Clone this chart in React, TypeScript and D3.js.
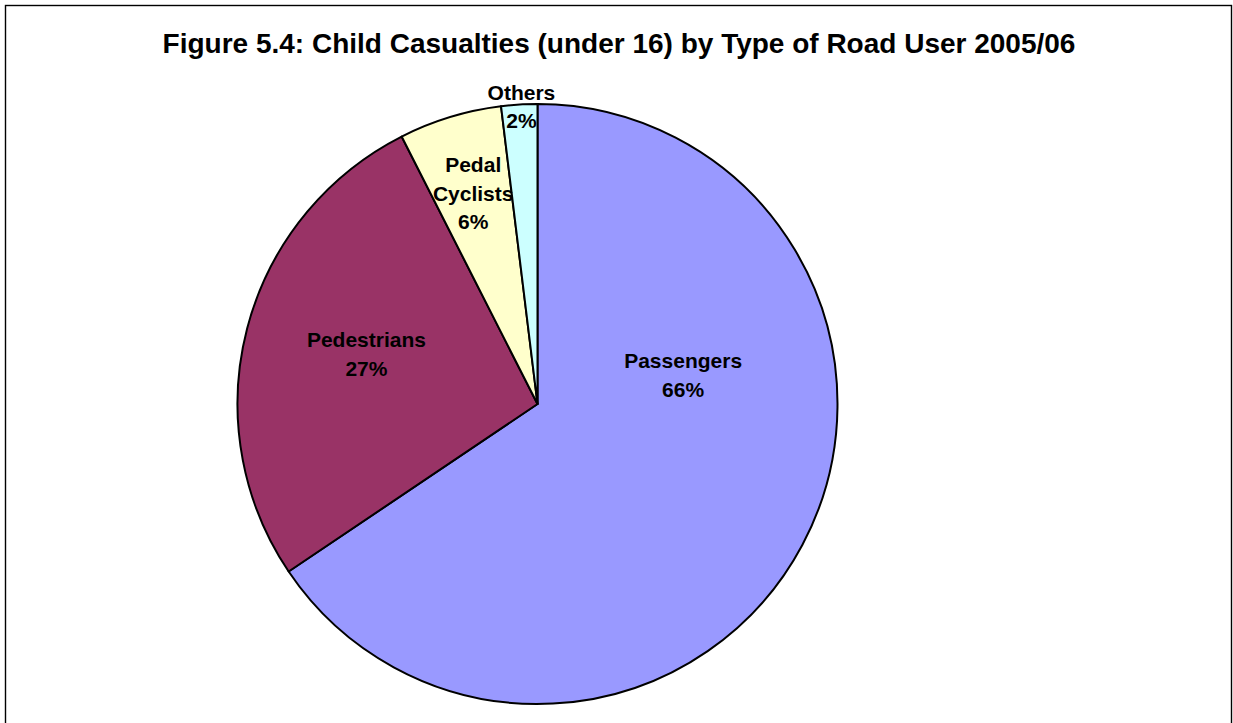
import React from "react";
import * as d3 from "d3";

// ---- data ----
const categories: string[] = ["Passengers", "Pedestrians", "Pedal Cyclists", "Others"];
const shares: number[] = [65.57, 26.95, 5.54, 1.94];
const colors: string[] = ["#9999FF", "#993366", "#FFFFCC", "#CCFFFF"];
const title = "Figure 5.4: Child Casualties (under 16) by Type of Road User 2005/06";

// ---- layout ----
const W = 1233;
const H = 723;
const CX = 537.5;
const CY = 404;
const R = 300;
// label placement: offset (deg) from slice mid-angle and radius fraction
const labelLayout = [
  { dAngle: -39.3, rf: 0.495 },
  { dAngle: 1.7, rf: 0.594 },
  { dAngle: 0, rf: 0.735 },
  { dAngle: 0.4, rf: 0.993 },
];
const FONT = "'Liberation Sans', Arial, Helvetica, sans-serif";
const LABEL_SIZE = 21;
const LINE_H = 28.5;

export default function App() {
  const total = d3.sum(shares);
  const pie = d3
    .pie<number>()
    .sort(null)
    .value((d) => d);
  const arcs = pie(shares);
  const arc = d3.arc<d3.PieArcDatum<number>>().innerRadius(0).outerRadius(R);
  const fmt = d3.format(".0f");

  return (
    <svg
      width={W}
      height={H}
      viewBox={`0 0 ${W} ${H}`}
      style={{ position: "absolute", left: 0, top: 0, background: "#fff" }}
    >
      <rect x={0} y={0} width={W} height={H} fill="#fff" />
      <rect x={5.5} y={5.5} width={1226} height={800} fill="none" stroke="#000" strokeWidth={1.4} />
      <text
        x={619}
        y={53}
        textAnchor="middle"
        fontFamily={FONT}
        fontWeight="bold"
        fontSize={28}
        fill="#000"
      >
        {title}
      </text>
      <g transform={`translate(${CX},${CY})`}>
        {arcs.map((a, i) => (
          <path key={i} d={arc(a) || ""} fill={colors[i]} stroke="#000" strokeWidth={2} strokeLinejoin="round" />
        ))}
        {arcs.map((a, i) => {
          const mid = (a.startAngle + a.endAngle) / 2 + (labelLayout[i].dAngle * Math.PI) / 180;
          const r = labelLayout[i].rf * R;
          const x = r * Math.sin(mid);
          const y = -r * Math.cos(mid);
          const lines = [...categories[i].split(" "), `${fmt((shares[i] / total) * 100)}%`];
          const n = lines.length;
          return (
            <text
              key={`l${i}`}
              textAnchor="middle"
              fontFamily={FONT}
              fontWeight="bold"
              fontSize={LABEL_SIZE}
              fill="#000"
            >
              {lines.map((ln, j) => (
                <tspan key={j} x={x} y={y - ((n - 1) * LINE_H) / 2 + j * LINE_H + 7.5}>
                  {ln}
                </tspan>
              ))}
            </text>
          );
        })}
      </g>
    </svg>
  );
}
